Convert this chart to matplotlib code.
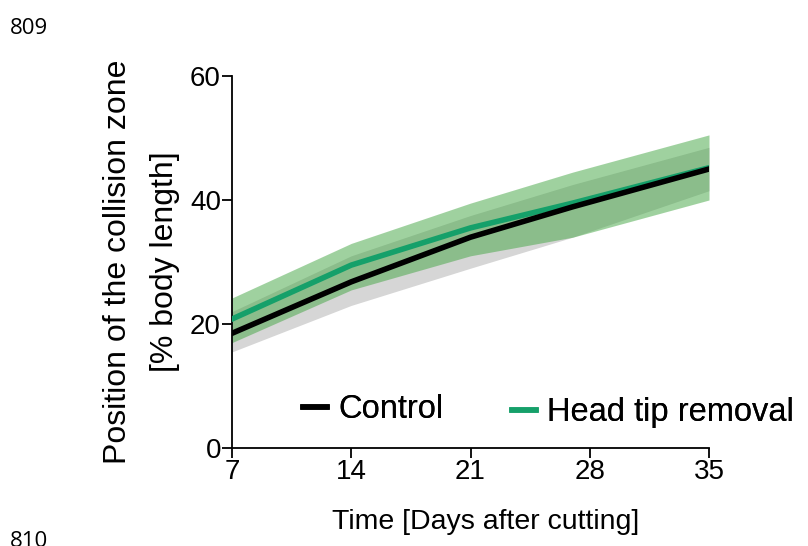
import matplotlib
matplotlib.use("Agg")
import matplotlib.pyplot as plt
from matplotlib.lines import Line2D

plt.rcParams['font.family'] = ['Liberation Sans', 'DejaVu Sans']

# ---- data ----
days = [7, 14, 21, 27, 35]
control_mean = [18.5, 26.8, 34.0, 38.9, 45.0]
control_lower = [15.5, 23.0, 29.0, 34.0, 41.5]
control_upper = [22.0, 31.0, 37.5, 42.5, 48.5]
head_mean = [20.8, 29.5, 35.5, 39.5, 45.2]
head_lower = [17.0, 25.5, 31.0, 34.0, 40.0]
head_upper = [24.2, 33.0, 39.5, 44.5, 50.5]
x_ticks = [7, 14, 21, 28, 35]
y_ticks = [0, 20, 40, 60]
series_names = ["Control", "Head tip removal"]
series_colors = ["black", "#15a06a"]
x_label = "Time [Days after cutting]"
y_label_lines = ["Position of the collision zone", "[% body length]"]

W, H = 808, 546
fig = plt.figure(figsize=(W/100, H/100), dpi=100)
ax = fig.add_axes([232/W, 1-448/H, (709-232)/W, (448-76)/H])

ax.fill_between(days, control_lower, control_upper, color='#d6d6d6', lw=0, zorder=1)
ax.fill_between(days, head_lower, head_upper, color='#41a541', alpha=0.5, lw=0, zorder=2)
ax.plot(days, head_mean, color=series_colors[1], lw=4, zorder=3, solid_joinstyle='miter')
ax.plot(days, control_mean, color=series_colors[0], lw=4, zorder=4, solid_joinstyle='miter')

ax.set_xlim(7, 35)
ax.set_ylim(0, 60)
ax.set_xticks(x_ticks)
ax.set_yticks(y_ticks)
for s in ['top', 'right']:
    ax.spines[s].set_visible(False)
for s in ['left', 'bottom']:
    ax.spines[s].set_linewidth(1.3)
ax.tick_params(direction='out', length=7, width=1.3, labelsize=20, pad=1)

fig.text(486/W, 1-522/H, x_label, fontsize=20.5, ha='center', va='center')
fig.text(118/W, 1-262/H, y_label_lines[0], fontsize=23, ha='center', va='center',
         rotation=90)
fig.text(165/W, 1-262/H, y_label_lines[1], fontsize=23, ha='center', va='center',
         rotation=90)

# legend: two single-entry legends placed where the reference shows them
anchors = [(303, 410), (512, 413)]
for name, col, (px, py) in zip(series_names, series_colors, anchors):
    leg = fig.legend([Line2D([0], [0], color=col, lw=4)], [name],
                     frameon=False, fontsize=23.5, handlelength=0.72,
                     handletextpad=0.36, borderpad=0, borderaxespad=0,
                     loc='center left', bbox_to_anchor=(px/W, 1-py/H),
                     bbox_transform=fig.transFigure)
    fig.add_artist(leg)

fig.text(10/W, 1-28/H, "809", fontsize=16, va='center', ha='left',
         family=['Open Sans', 'DejaVu Sans'])
fig.text(10/W, 1-531/H, "810", fontsize=16, va='top', ha='left',
         family=['Open Sans', 'DejaVu Sans'])

fig.savefig("out.png", dpi=100)
